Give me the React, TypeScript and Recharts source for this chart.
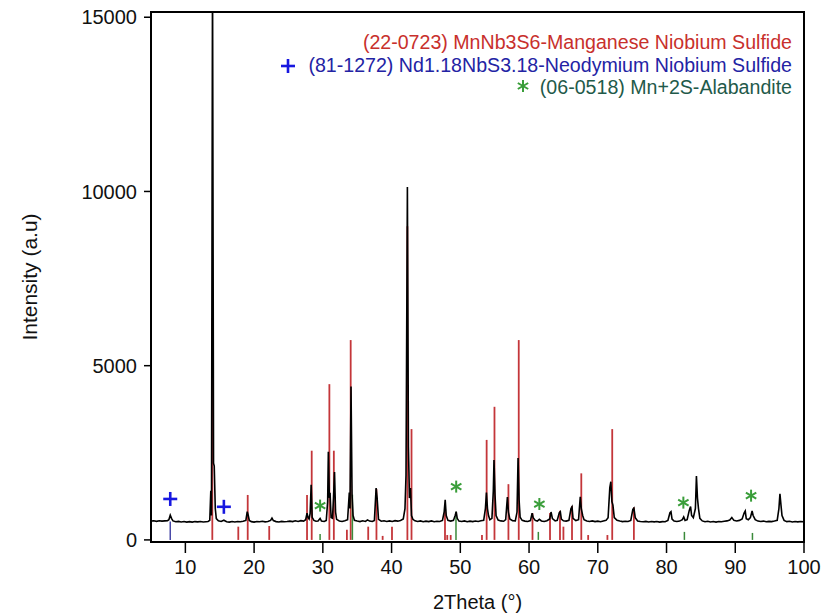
import {
  ComposedChart,
  Line,
  Scatter,
  XAxis,
  YAxis,
  ReferenceLine,
  ReferenceArea,
} from "recharts";

// measured pattern: [2theta, counts]
const scan: [number, number][] = [
  [5.0, 540], [5.4, 548], [5.8, 532], [6.2, 551], [6.6, 538], [7.0, 545], [7.4, 552], [7.6, 580],
  [7.8, 712], [8.0, 610], [8.2, 545], [8.6, 520], [9.0, 531], [9.4, 515], [9.8, 528], [10.2, 512],
  [10.6, 524], [11.0, 510], [11.4, 526], [11.8, 518], [12.2, 530], [12.6, 514], [13.0, 522],
  [13.3, 528], [13.55, 560], [13.7, 1410], [13.8, 700], [13.95, 16500], [14.1, 2200], [14.2, 2120],
  [14.35, 900], [14.5, 610], [14.8, 548], [15.2, 530], [15.6, 565], [16.0, 520], [16.4, 512],
  [16.8, 528], [17.2, 515], [17.6, 530], [18.0, 520], [18.4, 535], [18.8, 560], [19.0, 810],
  [19.15, 700], [19.3, 560], [19.6, 525], [20.0, 512], [20.4, 530], [20.8, 520], [21.2, 534],
  [21.6, 518], [22.0, 528], [22.4, 560], [22.6, 625], [22.8, 555], [23.2, 525], [23.6, 515],
  [24.0, 532], [24.4, 520], [24.8, 528], [25.2, 540], [25.6, 525], [26.0, 548], [26.4, 530],
  [26.8, 552], [27.2, 540], [27.5, 580], [27.7, 770], [27.85, 640], [28.0, 600], [28.15, 760],
  [28.3, 1580], [28.45, 650], [28.7, 560], [29.0, 535], [29.3, 545], [29.6, 615], [29.8, 540],
  [30.2, 530], [30.5, 560], [30.7, 1100], [30.8, 2530], [30.95, 1200], [31.05, 1350], [31.2, 640],
  [31.4, 620], [31.55, 1200], [31.7, 1950], [31.85, 800], [32.0, 590], [32.4, 545], [32.8, 530],
  [33.2, 550], [33.6, 580], [33.85, 1360], [33.95, 900], [34.1, 4400], [34.25, 1300], [34.4, 700],
  [34.6, 560], [35.0, 540], [35.4, 525], [35.8, 548], [36.2, 530], [36.5, 575], [36.8, 540],
  [37.2, 528], [37.5, 560], [37.75, 1490], [37.9, 1200], [38.1, 590], [38.5, 535], [38.9, 548],
  [39.3, 530], [39.7, 545], [40.1, 528], [40.5, 552], [40.9, 538], [41.3, 560], [41.7, 600],
  [41.95, 900], [42.1, 1860], [42.3, 10130], [42.45, 2680], [42.6, 1200], [42.75, 1490], [42.9, 700],
  [43.1, 590], [43.4, 548], [43.8, 530], [44.2, 545], [44.6, 520], [45.0, 538], [45.4, 526],
  [45.8, 545], [46.2, 522], [46.6, 535], [47.0, 528], [47.4, 560], [47.65, 800], [47.8, 1150],
  [47.95, 700], [48.2, 560], [48.6, 540], [49.0, 560], [49.25, 700], [49.4, 810], [49.55, 620],
  [49.8, 540], [50.2, 528], [50.6, 545], [51.0, 522], [51.4, 538], [51.8, 525], [52.2, 542],
  [52.6, 530], [53.0, 548], [53.4, 560], [53.65, 900], [53.8, 1360], [53.95, 900], [54.1, 700],
  [54.3, 580], [54.6, 620], [54.8, 1400], [54.9, 2290], [55.05, 1290], [55.2, 700], [55.5, 570],
  [55.9, 545], [56.3, 535], [56.6, 580], [56.85, 1230], [57.0, 800], [57.2, 600], [57.6, 550],
  [58.0, 545], [58.25, 800], [58.4, 2350], [58.55, 1150], [58.7, 650], [59.0, 560], [59.4, 540],
  [59.8, 530], [60.2, 555], [60.45, 770], [60.6, 640], [60.9, 560], [61.2, 540], [61.5, 590],
  [61.8, 545], [62.2, 530], [62.6, 550], [63.0, 600], [63.2, 800], [63.4, 610], [63.8, 545],
  [64.1, 560], [64.4, 780], [64.55, 810], [64.7, 600], [65.0, 550], [65.4, 540], [65.8, 560],
  [66.1, 900], [66.25, 950], [66.4, 620], [66.8, 555], [67.2, 580], [67.45, 1240], [67.6, 900],
  [67.8, 700], [68.0, 580], [68.4, 545], [68.8, 530], [69.2, 545], [69.6, 525], [70.0, 538],
  [70.4, 520], [70.8, 540], [71.2, 560], [71.5, 640], [71.75, 1500], [71.9, 1670], [72.05, 1100],
  [72.2, 1000], [72.4, 640], [72.8, 560], [73.2, 540], [73.6, 525], [74.0, 535], [74.4, 528],
  [74.8, 560], [75.1, 880], [75.25, 915], [75.45, 640], [75.8, 545], [76.2, 530], [76.6, 520],
  [77.0, 532], [77.4, 515], [77.8, 528], [78.2, 518], [78.6, 530], [79.0, 512], [79.4, 525],
  [79.8, 520], [80.2, 560], [80.5, 780], [80.65, 810], [80.8, 600], [81.1, 540], [81.5, 528],
  [81.9, 540], [82.3, 580], [82.5, 660], [82.7, 560], [83.0, 580], [83.3, 840], [83.5, 955],
  [83.65, 700], [83.9, 640], [84.2, 900], [84.35, 1835], [84.5, 1200], [84.65, 900], [84.85, 620],
  [85.2, 545], [85.6, 520], [86.0, 535], [86.4, 515], [86.8, 528], [87.2, 512], [87.6, 530],
  [88.0, 520], [88.4, 535], [88.8, 545], [89.2, 570], [89.5, 640], [89.8, 560], [90.2, 545],
  [90.6, 560], [91.0, 600], [91.3, 780], [91.45, 830], [91.6, 610], [91.9, 580], [92.2, 640],
  [92.45, 830], [92.6, 700], [92.9, 580], [93.3, 540], [93.7, 528], [94.1, 540], [94.5, 520],
  [94.9, 532], [95.3, 525], [95.7, 540], [96.1, 560], [96.35, 900], [96.5, 1320], [96.65, 1000],
  [96.8, 700], [97.1, 560], [97.5, 525], [97.9, 535], [98.3, 515], [98.7, 530], [99.1, 518],
  [99.5, 528], [100, 520],
];

// reference card lines: [2theta, intensity]
const mnNb3S6: [number, number][] = [
  [13.92, 6365], [17.7, 380], [19.07, 1290], [22.2, 400], [27.7, 1290], [28.38, 2560],
  [30.95, 4470], [31.6, 2560], [33.5, 290], [34.05, 5735], [36.6, 380], [37.8, 1460],
  [38.7, 115], [40.06, 380], [42.3, 9000], [42.9, 3180], [47.77, 955], [48.1, 140],
  [48.6, 140], [53.15, 140], [53.83, 2870], [54.97, 3820], [57.0, 1600], [58.5, 5735],
  [60.5, 770], [63.05, 770], [64.5, 840], [65.0, 380], [66.25, 975], [67.6, 1910],
  [68.6, 140], [71.4, 140], [72.1, 3180], [75.25, 935],
];
const ndNbS3: [number, number][] = [[7.8, 530]];
const alabandite: [number, number][] = [
  [29.6, 170], [34.3, 1300], [49.37, 810], [61.35, 230], [82.6, 230], [92.5, 200],
];

// phase markers
const plusMarks: [number, number][] = [[7.8, 1175], [15.6, 950]];
const starMarks: [number, number][] = [
  [29.6, 985], [49.4, 1530], [61.5, 1030], [82.45, 1070], [92.3, 1270],
];

const xTicks = [10, 20, 30, 40, 50, 60, 70, 80, 90, 100];
const xMinorTicks = [
  6, 7, 8, 9, 11, 12, 13, 14, 15, 16, 17, 18, 19, 21, 22, 23, 24, 25, 26, 27, 28, 29,
  31, 32, 33, 34, 35, 36, 37, 38, 39, 41, 42, 43, 44, 45, 46, 47, 48, 49, 51, 52, 53, 54,
  55, 56, 57, 58, 59, 61, 62, 63, 64, 65, 66, 67, 68, 69, 71, 72, 73, 74, 75, 76, 77, 78,
  79, 81, 82, 83, 84, 85, 86, 87, 88, 89, 91, 92, 93, 94, 95, 96, 97, 98, 99,
];
const yTicks = [0, 5000, 10000, 15000];

const FONT = "'Liberation Sans', Arial, sans-serif";
const RED = "#c4363a";

const toPoints = (arr: [number, number][]) =>
  arr.map(([theta, counts]) => ({ theta, counts }));

const PlusMark = (props: any) => {
  const { cx, cy } = props;
  return (
    <g stroke="#1717e0" strokeWidth={2.6}>
      <line x1={cx - 7} y1={cy} x2={cx + 7} y2={cy} />
      <line x1={cx} y1={cy - 7} x2={cx} y2={cy + 7} />
    </g>
  );
};

const StarMark = (props: any) => {
  const { cx, cy } = props;
  return (
    <g stroke="#3a9e3a" strokeWidth={2}>
      <line x1={cx} y1={cy - 6} x2={cx} y2={cy + 6} />
      <line x1={cx - 5.2} y1={cy - 3} x2={cx + 5.2} y2={cy + 3} />
      <line x1={cx - 5.2} y1={cy + 3} x2={cx + 5.2} y2={cy - 3} />
    </g>
  );
};

const legendRow = { height: 22.5, lineHeight: "22.5px", whiteSpace: "nowrap" as const };

export default function App() {
  return (
    <div
      style={{
        position: "absolute",
        left: 0,
        top: 0,
        width: 825,
        height: 615,
        background: "#fff",
        fontFamily: FONT,
      }}
    >
      <ComposedChart
        width={825}
        height={615}
        margin={{ top: 12, right: 21, bottom: 13, left: 0 }}
      >
        <XAxis
          xAxisId="minor"
          type="number"
          dataKey="theta"
          domain={[5, 100]}
          ticks={xMinorTicks}
          tick={false}
          tickSize={4}
          axisLine={false}
          tickLine={{ stroke: "#000", strokeWidth: 1.3 }}
          height={0}
          allowDataOverflow
        />
        <XAxis
          type="number"
          dataKey="theta"
          domain={[5, 100]}
          ticks={xTicks}
          tickSize={11}
          tickMargin={7}
          height={60}
          allowDataOverflow
          axisLine={{ stroke: "#000", strokeWidth: 2 }}
          tickLine={{ stroke: "#000", strokeWidth: 1.5 }}
          tick={{ fill: "#111", fontSize: 20, fontFamily: FONT }}
          label={{
            value: "2Theta (°)",
            position: "insideBottom",
            offset: -7,
            style: { fill: "#111", fontSize: 20, fontFamily: FONT },
          }}
        />
        <YAxis
          type="number"
          dataKey="counts"
          domain={[-60, 15150]}
          ticks={yTicks}
          width={151}
          tickSize={7}
          tickMargin={7}
          allowDataOverflow
          axisLine={{ stroke: "#000", strokeWidth: 2 }}
          tickLine={{ stroke: "#000", strokeWidth: 1.5 }}
          tick={{ fill: "#111", fontSize: 20, fontFamily: FONT }}
          label={{
            value: "Intensity (a.u)",
            angle: -90,
            position: "insideLeft",
            offset: 30,
            style: { fill: "#111", fontSize: 21, fontFamily: FONT, textAnchor: "middle" },
          }}
        />

        {mnNb3S6.map(([x, h]) => (
          <ReferenceLine
            key={`r${x}`}
            segment={[{ x, y: 0 }, { x, y: h }]}
            stroke={RED}
            strokeWidth={1.8}
          />
        ))}
        {ndNbS3.map(([x, h]) => (
          <ReferenceLine
            key={`b${x}`}
            segment={[{ x, y: 0 }, { x, y: h }]}
            stroke="#4a4aa8"
            strokeWidth={1.5}
          />
        ))}
        {alabandite.map(([x, h]) => (
          <ReferenceLine
            key={`g${x}`}
            segment={[{ x, y: 0 }, { x, y: h }]}
            stroke="#3a8a3a"
            strokeWidth={1.5}
          />
        ))}

        <Line
          data={toPoints(scan)}
          dataKey="counts"
          type="linear"
          stroke="#000"
          strokeWidth={1.6}
          dot={false}
          isAnimationActive={false}
        />

        <Scatter
          data={toPoints(plusMarks)}
          dataKey="counts"
          shape={PlusMark}
          isAnimationActive={false}
        />
        <Scatter
          data={toPoints(starMarks)}
          dataKey="counts"
          shape={StarMark}
          isAnimationActive={false}
        />

        <ReferenceArea
          x1={5}
          x2={100}
          y1={-60}
          y2={15150}
          fill="none"
          stroke="#000"
          strokeWidth={2}
        />
      </ComposedChart>

      <div
        style={{
          position: "absolute",
          right: 33,
          top: 31,
          textAlign: "right",
          fontSize: 19.6,
        }}
      >
        <div style={{ ...legendRow, color: "#c8302c" }}>
          (22-0723) MnNb3S6-Manganese Niobium Sulfide
        </div>
        <div style={{ ...legendRow, color: "#2323a4" }}>
          <svg width={16} height={16} style={{ verticalAlign: "-2px", marginRight: 12 }}>
            <g stroke="#1717e0" strokeWidth={2.6}>
              <line x1={1} y1={8} x2={15} y2={8} />
              <line x1={8} y1={1} x2={8} y2={15} />
            </g>
          </svg>
          (81-1272) Nd1.18NbS3.18-Neodymium Niobium Sulfide
        </div>
        <div style={{ ...legendRow, color: "#1f5a4a" }}>
          <svg width={14} height={14} style={{ verticalAlign: "1px", marginRight: 10 }}>
            <g stroke="#3a9e3a" strokeWidth={2}>
              <line x1={7} y1={1} x2={7} y2={13} />
              <line x1={1.8} y1={4} x2={12.2} y2={10} />
              <line x1={1.8} y1={10} x2={12.2} y2={4} />
            </g>
          </svg>
          (06-0518) Mn+2S-Alabandite
        </div>
      </div>
    </div>
  );
}
